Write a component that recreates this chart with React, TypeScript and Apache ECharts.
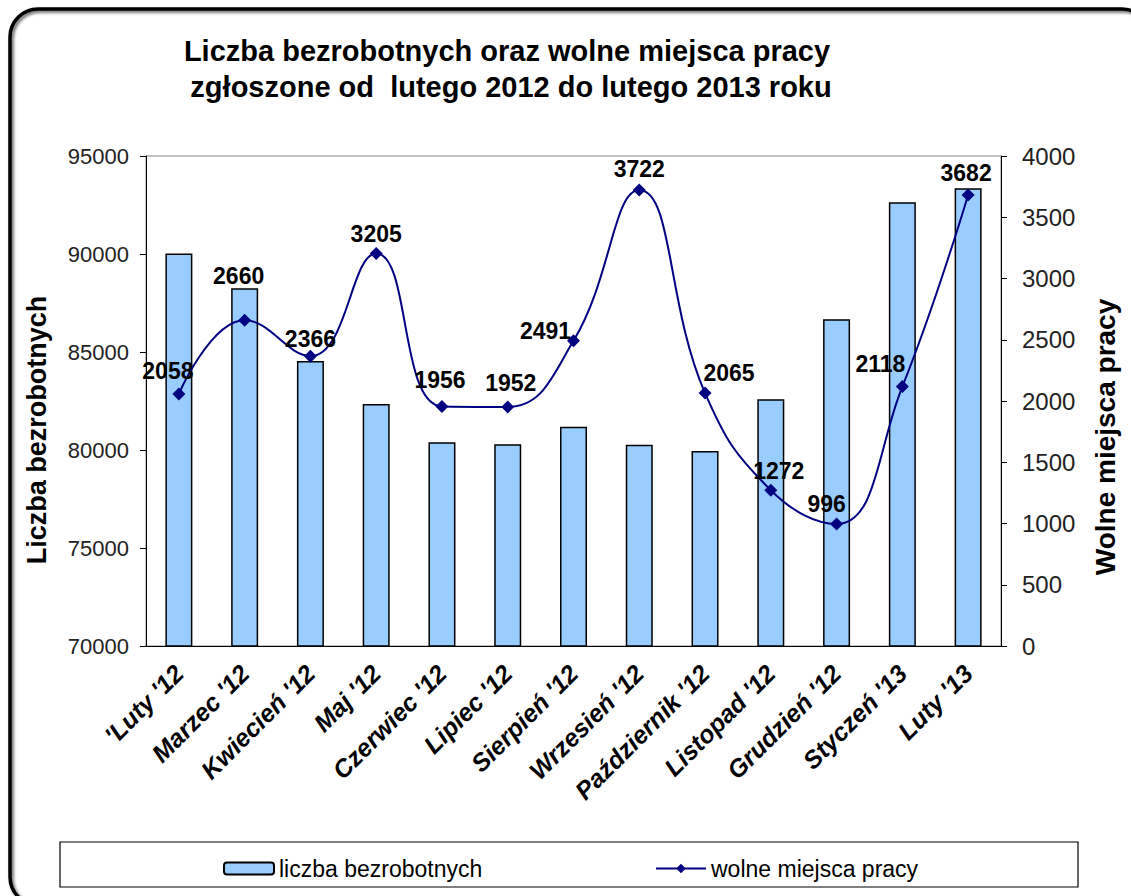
import React, { useEffect, useRef } from "react";
import * as echarts from "echarts";

const categories = [
  "'Luty '12", "Marzec '12", "Kwiecień '12", "Maj '12", "Czerwiec '12", "Lipiec '12",
  "Sierpień '12", "Wrzesień '12", "Październik '12", "Listopad '12", "Grudzień '12",
  "Styczeń '13", "Luty '13",
];
const unemployed = [90030, 88250, 84540, 82350, 80390, 80290, 81190, 80270, 79950, 82590, 86670, 92640, 93350];
const vacancies = [2058, 2660, 2366, 3205, 1956, 1952, 2491, 3722, 2065, 1272, 996, 2118, 3682];
const labelOffsets: [number, number][] = [
  [-11, -23], [-6, -44], [0, -17], [0, -19], [-2, -26], [3, -24], [-28, -10],
  [0, -21], [24, -20], [8, -19], [-10, -20], [-22, -23], [-2, -22],
];
const titleLines = ["Liczba bezrobotnych oraz wolne miejsca pracy", " zgłoszone od  lutego 2012 do lutego 2013 roku"];
const seriesNames = ["liczba bezrobotnych", "wolne miejsca pracy"];
const axisNames = ["Liczba bezrobotnych", "Wolne miejsca pracy"];

const FONT = "'Liberation Sans', Arial, sans-serif";

export default function App() {
  const ref = useRef<HTMLDivElement>(null);
  useEffect(() => {
    if (!ref.current) return;
    const chart = echarts.init(ref.current, null, { renderer: "svg" });
    const legendText = { fontSize: 23, color: "#000", fontFamily: FONT };
    chart.setOption({
      animation: false,
      backgroundColor: "#fff",
      textStyle: { fontFamily: FONT },
      title: {
        text: titleLines.join("\n"),
        left: 502,
        textAlign: "center",
        top: 28,
        textStyle: { fontSize: 29, fontWeight: "bold", color: "#000", lineHeight: 36, fontFamily: FONT },
      },
      grid: {
        left: 146, right: 130, top: 156, bottom: 250,
        show: true, borderColor: "#888", borderWidth: 1,
      },
      legend: [
        {
          left: 218, top: 852, itemWidth: 50, itemHeight: 12,
          textStyle: legendText, data: [seriesNames[0]],
        },
        {
          left: 650, top: 852, itemWidth: 50, itemHeight: 12,
          textStyle: legendText, data: [seriesNames[1]],
        },
      ],
      xAxis: {
        type: "category",
        data: categories,
        axisLine: { lineStyle: { color: "#000", width: 1 } },
        axisTick: { length: 7, lineStyle: { color: "#000" } },
        axisLabel: {
          rotate: 45, interval: 0, color: "#000", fontSize: 25, fontWeight: "bold",
          fontStyle: "italic", margin: 23, fontFamily: FONT,
        },
      },
      yAxis: [
        {
          type: "value", min: 70000, max: 95000, interval: 5000,
          name: axisNames[0], nameLocation: "middle", nameGap: 96,
          nameTextStyle: {
            fontSize: 27, fontWeight: "bold", color: "#000", fontFamily: FONT,
            padding: [0, 58, 0, 0],
          },
          axisLine: { show: true, lineStyle: { color: "#000" } },
          axisTick: { show: true, length: 6, lineStyle: { color: "#000" } },
          axisLabel: { color: "#222", fontSize: 22, margin: 17, fontFamily: FONT, formatter: (v: number) => String(v) },
          splitLine: { show: false },
        },
        {
          type: "value", min: 0, max: 4000, interval: 500,
          name: axisNames[1], nameLocation: "middle", nameGap: 90,
          nameTextStyle: {
            fontSize: 28, fontWeight: "bold", color: "#000", fontFamily: FONT,
            padding: [0, 72, 0, 0],
          },
          axisLine: { show: true, lineStyle: { color: "#000" } },
          axisTick: { show: true, length: 6, lineStyle: { color: "#000" } },
          axisLabel: { color: "#222", fontSize: 24, margin: 21, fontFamily: FONT, formatter: (v: number) => String(v) },
          splitLine: { show: false },
        },
      ],
      series: [
        {
          name: seriesNames[0],
          type: "bar",
          yAxisIndex: 0,
          barWidth: 27,
          data: unemployed,
          itemStyle: { color: "#99CCFF", borderColor: "#000", borderWidth: 1.5 },
        },
        {
          name: seriesNames[1],
          type: "line",
          yAxisIndex: 1,
          smooth: 0.45,
          symbol: "diamond",
          symbolSize: 13,
          lineStyle: { color: "#000080", width: 2 },
          itemStyle: { color: "#000080" },
          z: 5,
          data: vacancies.map((v, i) => ({
            value: v,
            label: {
              show: true,
              position: "inside",
              offset: labelOffsets[i],
              fontSize: 23,
              fontWeight: "bold",
              color: "#000",
              fontFamily: FONT,
            },
          })),
        },
      ],
      graphic: [
        {
          type: "rect",
          shape: { x: 60, y: 842, width: 1018, height: 45 },
          style: { fill: "none", stroke: "#000", lineWidth: 1.2 },
          z: -1,
        },
        {
          type: "rect",
          shape: { x: 10, y: 9, width: 1140, height: 896, r: 28 },
          style: {
            fill: "none", stroke: "#000", lineWidth: 3.5,
            shadowBlur: 3, shadowOffsetX: 2, shadowOffsetY: 2, shadowColor: "rgba(0,0,0,0.6)",
          },
          z: 10,
        },
      ],
    });
    return () => chart.dispose();
  }, []);
  return <div ref={ref} style={{ position: "fixed", left: 0, top: 0, width: 1131, height: 896 }} />;
}
